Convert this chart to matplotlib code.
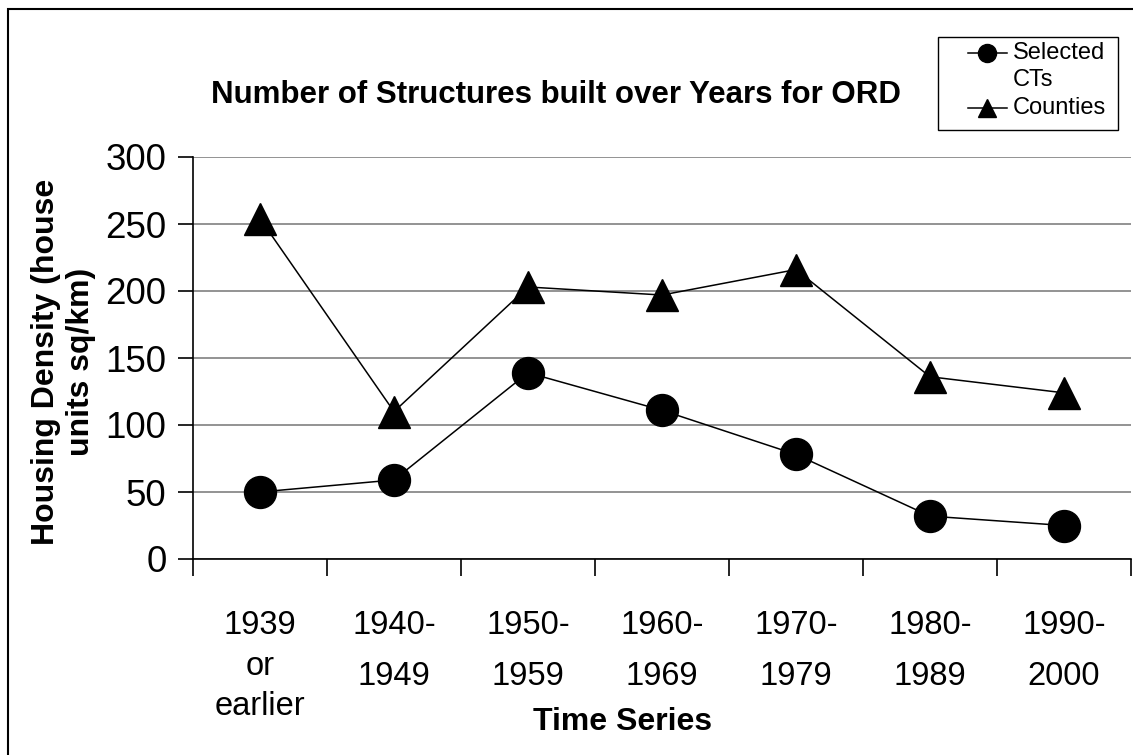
import matplotlib
matplotlib.use("Agg")
import matplotlib.pyplot as plt
from matplotlib.patches import Rectangle
from matplotlib.lines import Line2D

plt.rcParams['font.family'] = ['Liberation Sans', 'DejaVu Sans']

periods = ["1939\nor\nearlier", "1940-\n1949", "1950-\n1959", "1960-\n1969",
           "1970-\n1979", "1980-\n1989", "1990-\n2000"]
selected_cts = [50, 59, 139, 111, 78, 32, 25]
counties = [254, 110, 203, 197, 216, 136, 124]
y_ticks = [0, 50, 100, 150, 200, 250, 300]

W, H = 1133, 755
fig = plt.figure(figsize=(W / 100, H / 100), dpi=100)
ax = fig.add_axes([193 / W, (H - 559) / H, (1131 - 193) / W, (559 - 157) / H])

x = list(range(len(periods)))
ax.plot(x, selected_cts, color='black', lw=1.1, marker='o', ms=23,
        mfc='black', mec='black', zorder=3)
ax.plot(x, counties, color='black', lw=1.1, marker='^', ms=23,
        mfc='black', mec='black', zorder=3)

ax.set_xlim(-0.5, len(periods) - 0.5)
ax.set_ylim(0, 300)
ax.set_yticks(y_ticks)
ax.yaxis.grid(True, color='#808080', lw=1.2)
ax.set_axisbelow(True)
for s in ['top', 'right']:
    ax.spines[s].set_visible(False)
for s in ['left', 'bottom']:
    ax.spines[s].set_linewidth(1.2)
ax.tick_params(axis='y', direction='out', length=11, width=1.2, labelsize=26.5, pad=8)

# category labels at centers, tick marks on the boundaries
ax.set_xticks(x)
ax.set_xticklabels(periods, fontsize=23.5, va='top')
ax.tick_params(axis='x', which='major', length=0, pad=37)
ax.set_xticks([i - 0.5 for i in range(len(periods) + 1)], minor=True)
ax.tick_params(axis='x', which='minor', direction='out', length=12, width=1.2)
for i, lab in enumerate(ax.get_xticklabels()):
    lab.set_linespacing(1.38 if i == 0 else 1.8)

ax.set_ylabel("Housing Density (house\nunits sq/km)", fontsize=23, fontweight='bold',
              linespacing=1.22)
ax.yaxis.set_label_coords(-0.103, 0.49)
fig.text(623 / W, 1 - 722 / H, "Time Series", fontsize=23, fontweight='bold',
         ha='center', va='center')
fig.text(556 / W, 1 - 95 / H, "Number of Structures built over Years for ORD",
         fontsize=22.5, fontweight='bold', ha='center', va='center')

# legend box, drawn in pixel positions
def px(xp, yp):
    return xp / W, 1 - yp / H

lx0, ly0 = px(938, 130)
lx1, ly1 = px(1118, 37)
fig.patches.append(Rectangle((lx0, ly0), lx1 - lx0, ly1 - ly0, transform=fig.transFigure,
                             facecolor='white', edgecolor='black', lw=1.0, zorder=5))
for yp, mk, lines in [(53, 'o', ["Selected", "CTs"]), (108, '^', ["Counties"])]:
    hx0, hy = px(968, yp)
    hx1, _ = px(1007, yp)
    fig.lines.append(Line2D([hx0, hx1], [hy, hy], transform=fig.transFigure,
                            color='black', lw=1.1, zorder=6))
    fig.lines.append(Line2D([(hx0 + hx1) / 2], [hy], transform=fig.transFigure,
                            marker=mk, ms=13, color='black', ls='none', zorder=6))
    for k, t in enumerate(lines):
        tx, ty = px(1013, yp + 27 * k)
        fig.text(tx, ty, t, fontsize=17, ha='left', va='center', zorder=6)

fig.patches.append(Rectangle((8 / W, -0.1), 1.2, 1.1 - 9 / H, transform=fig.transFigure,
                             fill=False, edgecolor='black', lw=1.5))

fig.savefig("out.png", dpi=100)
